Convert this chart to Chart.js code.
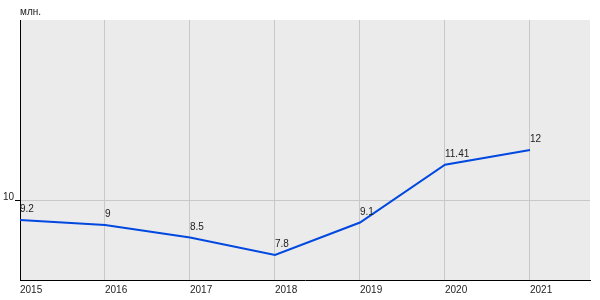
<!DOCTYPE html>
<html>
<head>
<meta charset="utf-8">
<script src="https://cdn.jsdelivr.net/npm/chart.js@4"></script>
<style>
  body { margin: 0; background: #fff; }
</style>
</head>
<body>
<canvas id="grafico" width="600" height="300"></canvas>
<script>
const anni = [2015, 2016, 2017, 2018, 2019, 2020, 2021];
const valori = [9.2, 9, 8.5, 7.8, 9.1, 11.41, 12];
const etichette = ["9.2", "9", "8.5", "7.8", "9.1", "11.41", "12"];
const tickY = [10];
const unita = "млн.";

const FONT = "Liberation Sans, Arial, sans-serif";

// sfondo grigio dell'area del grafico
const sfondo = {
  id: "sfondo",
  beforeDraw(chart) {
    const { ctx, chartArea: a } = chart;
    ctx.save();
    ctx.fillStyle = "#ebebeb";
    ctx.fillRect(a.left, a.top, a.right - a.left, a.bottom - a.top);
    ctx.restore();
  },
};

// etichette sui punti + unita in alto
const etichettePunti = {
  id: "etichettePunti",
  afterDatasetsDraw(chart) {
    const ctx = chart.ctx;
    const meta = chart.getDatasetMeta(0);
    ctx.save();
    ctx.font = "10px " + FONT;
    ctx.fillStyle = "#222";
    ctx.textAlign = "left";
    ctx.textBaseline = "alphabetic";
    meta.data.forEach((p, i) => {
      ctx.fillText(etichette[i], p.x, p.y - 8);
    });
    ctx.fillText(unita, chart.chartArea.left, 15);
    ctx.restore();
  },
};

const data = {
  datasets: [
    {
      data: anni.map((a, i) => ({ x: a, y: valori[i] })),
      borderColor: "#0048e0",
      borderWidth: 2,
      pointRadius: 0,
      tension: 0,
      fill: false,
    },
  ],
};

const config = {
  type: "line",
  data: data,
  options: {
    responsive: false,
    animation: false,
    layout: { padding: { top: 20, right: 10, left: 0, bottom: 0 } },
    plugins: {
      legend: { display: false },
      tooltip: { enabled: false },
    },
    scales: {
      x: {
        type: "linear",
        min: 2015,
        max: 2021.706,
        afterBuildTicks: (s) => {
          s.ticks = anni.map((v) => ({ value: v }));
        },
        afterFit: (s) => {
          s.height = 20;
        },
        grid: { color: "#c8c8c8", drawTicks: false },
        border: { color: "#000", width: 1 },
        ticks: {
          align: "start",
          padding: 4,
          maxRotation: 0,
          autoSkip: false,
          color: "#222",
          font: { family: FONT, size: 10 },
          callback: (v) => String(v),
        },
      },
      y: {
        min: 6.8,
        max: 17.2,
        afterBuildTicks: (s) => {
          s.ticks = tickY.map((v) => ({ value: v }));
        },
        afterFit: (s) => {
          s.width = 20;
        },
        grid: { color: "#c8c8c8", tickColor: "#000", tickLength: 5 },
        border: { color: "#000", width: 1 },
        ticks: {
          padding: 1,
          labelOffset: -3,
          color: "#222",
          font: { family: FONT, size: 10 },
          callback: (v) => String(v),
        },
      },
    },
  },
  plugins: [sfondo, etichettePunti],
};

const grafico = function () {
  const containergrafico = document.getElementById("grafico");
  new Chart(containergrafico, config);
};

grafico();
</script>
</body>
</html>
